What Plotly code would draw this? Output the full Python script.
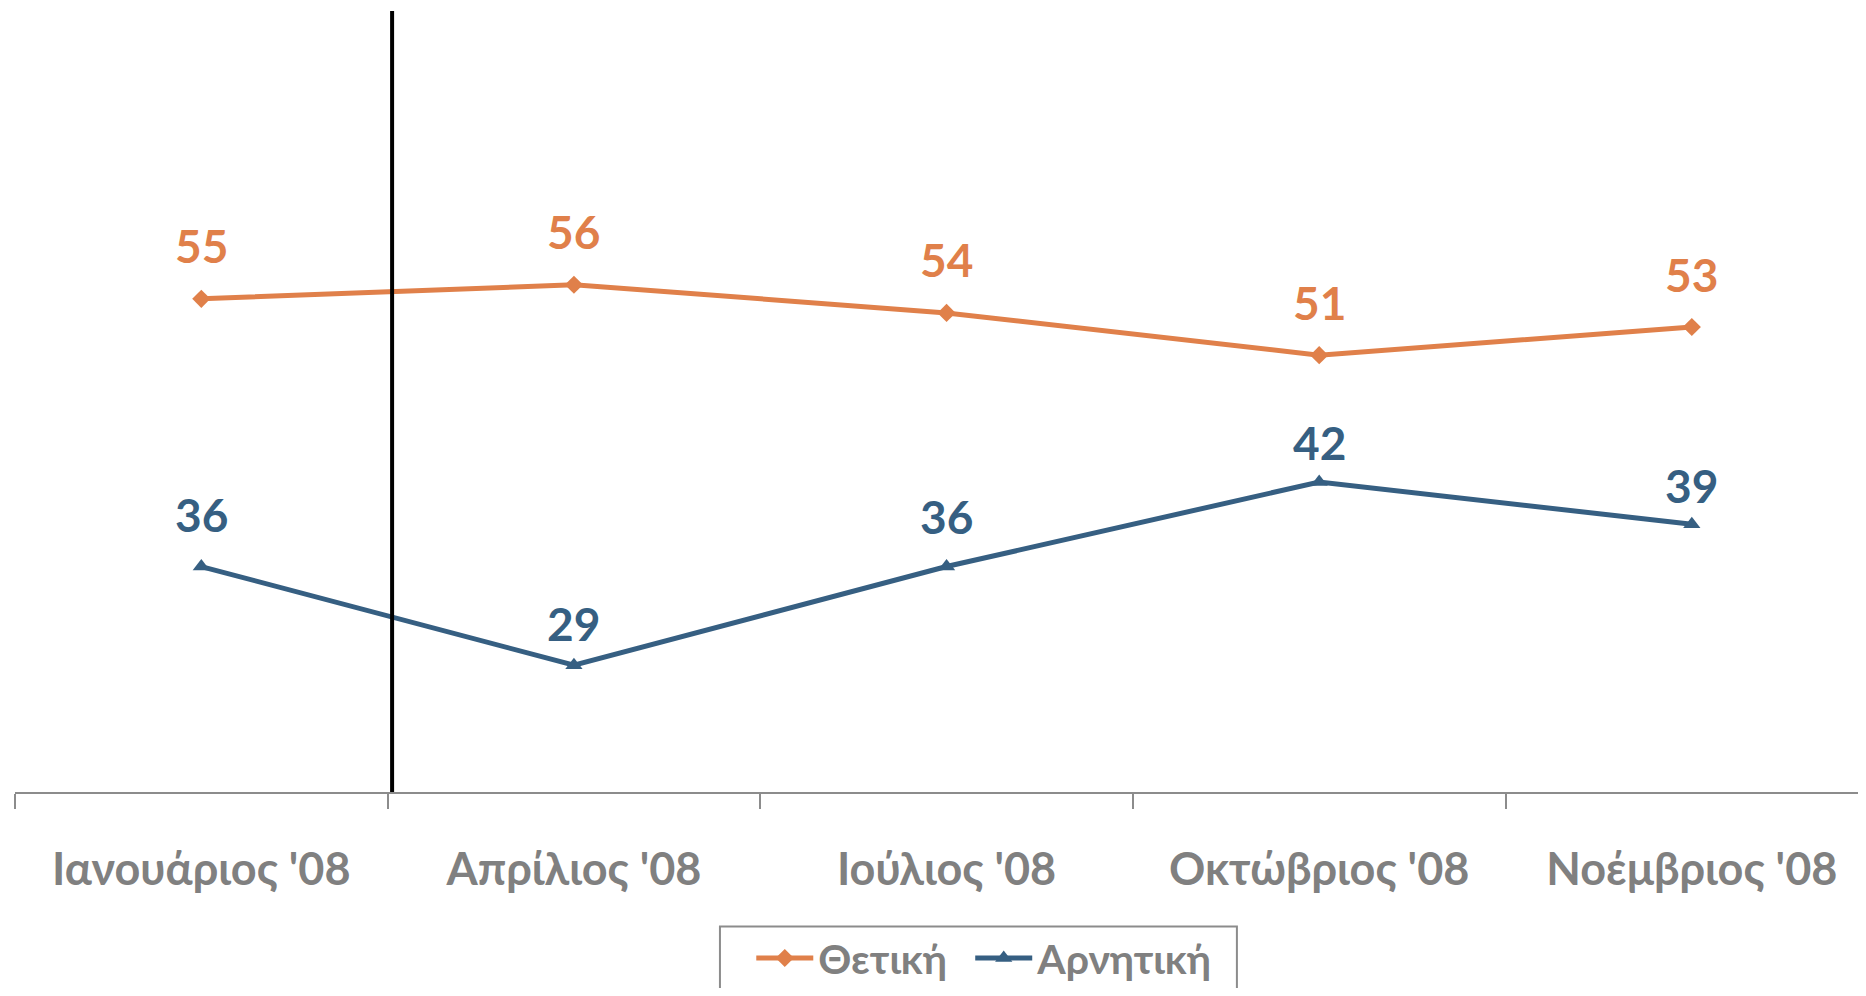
import plotly.graph_objects as go

categories = ["Ιανουάριος '08", "Απρίλιος '08", "Ιούλιος '08", "Οκτώβριος '08", "Νοέμβριος '08"]
positive = [55, 56, 54, 51, 53]
negative = [36, 29, 36, 42, 39]
series_names = ["Θετική", "Αρνητική"]

# label offsets above the points (px), style only
pos_label_shift = [53, 53, 53, 53, 53]
neg_label_shift = [52, 42, 50, 40, 39]

ORANGE = "#E0804A"
BLUE = "#365F82"
GRAY = "#808080"
AXIS_GRAY = "#8c8c8c"
FONT = "Lato"

xs = list(range(len(categories)))

W, H = 1850, 980
L, R, T, B = 7, 0, 9, 195.5

fig = go.Figure()
fig.add_trace(go.Scatter(
    x=xs, y=positive, name=series_names[0], mode="lines+markers",
    line=dict(color=ORANGE, width=5),
    marker=dict(symbol="diamond", size=14, color=ORANGE),
    legend="legend",
))
fig.add_trace(go.Scatter(
    x=xs, y=negative, name=series_names[1], mode="lines+markers",
    line=dict(color=BLUE, width=5),
    marker=dict(symbol="triangle-up", size=15, color=BLUE),
    legend="legend2",
))

for xv, v, s in zip(xs, positive, pos_label_shift):
    fig.add_annotation(x=xv, y=v, text=str(v), showarrow=False, yanchor="middle",
                       yshift=s, font=dict(family=FONT, size=46, color=ORANGE, weight="bold"))
for xv, v, s in zip(xs, negative, neg_label_shift):
    fig.add_annotation(x=xv, y=v, text=str(v), showarrow=False, yanchor="middle",
                       yshift=s, font=dict(family=FONT, size=46, color=BLUE, weight="bold"))

# vertical separator line
fig.add_shape(type="line", xref="x", yref="paper", x0=0.512, x1=0.512, y0=0, y1=1.0077,
              line=dict(color="black", width=4))

# legend frame
fig.add_shape(type="rect", xref="paper", yref="paper", x0=0.3825, x1=0.663,
              y0=-0.1734, y1=-0.40, line=dict(color=AXIS_GRAY, width=2), fillcolor="rgba(0,0,0,0)")

legend_common = dict(
    orientation="h", xanchor="left", y=-0.1714, yanchor="top",
    borderwidth=0, itemwidth=57,
    font=dict(family=FONT, size=41, color=GRAY, weight="bold"),
    bgcolor="rgba(0,0,0,0)",
)

fig.update_layout(
    width=W, height=H,
    margin=dict(l=L, r=R, t=T, b=B, autoexpand=False),
    paper_bgcolor="white", plot_bgcolor="white",
    showlegend=True,
    legend=dict(x=0.3995, **legend_common),
    legend2=dict(x=0.5183, **legend_common),
    xaxis=dict(
        range=[-0.5, 4.446], tickmode="array", tickvals=xs, ticktext=categories,
        showgrid=False, zeroline=False, showline=True, linecolor=AXIS_GRAY, linewidth=2,
        ticks="", tickfont=dict(family=FONT, size=45, color=GRAY, weight="bold"),
        minor=dict(tickmode="array", tickvals=[-0.5, 0.5, 1.5, 2.5, 3.5, 4.5],
                   ticks="outside", ticklen=15, tickcolor=AXIS_GRAY, tickwidth=2),
        ticklabelstandoff=37,
    ),
    yaxis=dict(range=[20, 75], visible=False, showgrid=False, zeroline=False),
)

fig.write_html("out.html")
